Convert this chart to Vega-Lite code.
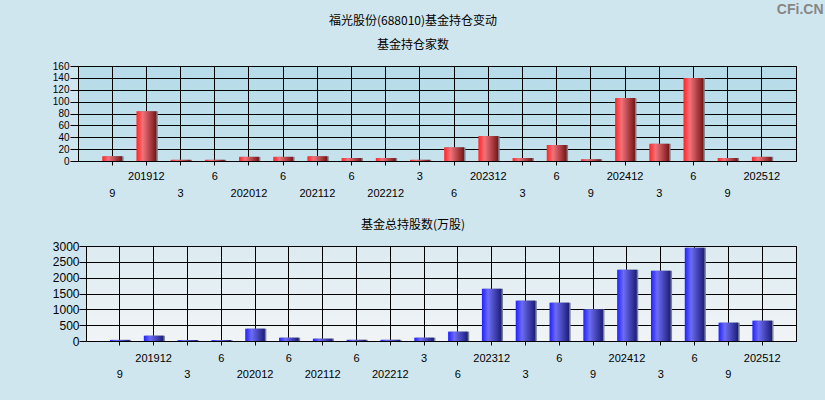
{
  "$schema": "https://vega.github.io/schema/vega-lite/v6.json",
  "background": "#d0e6ef",
  "padding": {"left": 51, "top": 2, "right": 3, "bottom": 24},
  "title": {
    "text": "CFi.CN",
    "font": "Liberation Sans",
    "fontSize": 14,
    "fontWeight": "bold",
    "color": "#868686",
    "anchor": "end",
    "offset": 0,
    "dy": 2,
    "dx": 27
  },
  "datasets": {
    "holdings": [
      {"period": "201909", "funds": 8, "shares": 35},
      {"period": "201912", "funds": 84, "shares": 168},
      {"period": "202003", "funds": 2, "shares": 30},
      {"period": "202006", "funds": 2, "shares": 30},
      {"period": "202012", "funds": 7, "shares": 389},
      {"period": "202106", "funds": 7, "shares": 105},
      {"period": "202112", "funds": 8, "shares": 74},
      {"period": "202206", "funds": 5, "shares": 38},
      {"period": "202212", "funds": 5, "shares": 38},
      {"period": "202303", "funds": 2, "shares": 105},
      {"period": "202306", "funds": 23, "shares": 295},
      {"period": "202312", "funds": 42, "shares": 1653},
      {"period": "202403", "funds": 5, "shares": 1274},
      {"period": "202406", "funds": 27, "shares": 1210},
      {"period": "202409", "funds": 3, "shares": 1000},
      {"period": "202412", "funds": 106, "shares": 2253},
      {"period": "202503", "funds": 29, "shares": 2221},
      {"period": "202506", "funds": 140, "shares": 2947},
      {"period": "202509", "funds": 5, "shares": 579},
      {"period": "202512", "funds": 7, "shares": 642}
    ]
  },
  "columns": 1,
  "align": "none",
  "spacing": 19,
  "concat": [
    {
      "width": 718,
      "height": 95,
      "data": {"name": "holdings"},
      "title": {
        "text": "福光股份(688010)基金持仓变动",
        "subtitle": "基金持仓家数",
        "font": "Noto Sans CJK SC",
        "fontSize": 12,
        "fontWeight": "normal",
        "color": "black",
        "subtitleFont": "Noto Sans CJK SC",
        "subtitleFontSize": 12,
        "subtitleColor": "black",
        "subtitlePadding": 12,
        "offset": 9,
        "anchor": "middle",
        "dx": -24
      },
      "view": {
        "fill": {"gradient": "linear", "x1": 0, "y1": 0, "x2": 0, "y2": 1,
          "stops": [{"offset": 0, "color": "#b6dbe9"}, {"offset": 1, "color": "#c6e2ed"}]},
        "stroke": "black", "strokeWidth": 1
      },
      "encoding": {
        "x": {
          "field": "period", "type": "ordinal", "sort": null,
          "scale": {"paddingInner": 0.42, "paddingOuter": 0.71},
          "axis": {
            "title": null, "bandPosition": 0.5, "grid": true, "gridColor": "black", "gridWidth": 1,
            "domain": false, "tickColor": "black", "tickSize": 4, "labelAngle": 0,
            "labelFont": "Liberation Sans", "labelFontSize": 11, "labelColor": "black",
            "labelPadding": 5, "labelBaseline": "top", "labelOverlap": false, "labelLineHeight": 17,
            "labelExpr": "indexof(['201912','202006','202106','202206','202303','202312','202406','202412','202506','202512'], datum.value) >= 0 ? (substring(datum.value, 4) == '12' ? datum.value : toString(toNumber(substring(datum.value, 4)))) : [' ', (substring(datum.value, 4) == '12' ? datum.value : toString(toNumber(substring(datum.value, 4))))]"
          }
        },
        "y": {
          "field": "funds", "type": "quantitative",
          "scale": {"domain": [0, 160], "nice": false},
          "axis": {
            "title": null, "values": [0, 20, 40, 60, 80, 100, 120, 140, 160], "format": "d",
            "grid": true, "gridColor": "black", "gridWidth": 1, "domain": false,
            "tickColor": "black", "tickSize": 8, "labelPadding": 1,
            "labelFont": "Liberation Sans", "labelFontSize": 10, "labelColor": "black"
          }
        }
      },
      "layer": [
        {"mark": {"type": "bar", "color": "#74838f", "xOffset": 1.5}},
        {"mark": {"type": "bar", "color": {"gradient": "linear", "x1": 0, "y1": 0, "x2": 1, "y2": 0,
          "stops": [{"offset": 0, "color": "#ff2424"}, {"offset": 0.32, "color": "#f2727a"}, {"offset": 1, "color": "#761616"}]}}}
      ]
    },
    {
      "hconcat": [
        {
          "width": 1,
          "height": 95,
          "data": {"values": [{"k": 1}]},
          "mark": {"type": "point", "opacity": 0},
          "view": {"stroke": null, "fill": null}
        },
        {
          "width": 710,
          "height": 95,
          "data": {"name": "holdings"},
          "title": {
            "text": "基金总持股数(万股)", "font": "Noto Sans CJK SC", "fontSize": 12, "fontWeight": "normal",
            "color": "black", "anchor": "middle", "offset": 8, "dx": -28
          },
          "view": {
            "fill": {"gradient": "linear", "x1": 0, "y1": 0, "x2": 0, "y2": 1,
              "stops": [{"offset": 0, "color": "#dcebf1"}, {"offset": 1, "color": "#f1f4f6"}]},
            "stroke": "black", "strokeWidth": 1
          },
          "encoding": {
            "x": {
              "field": "period", "type": "ordinal", "sort": null,
              "scale": {"paddingInner": 0.42, "paddingOuter": 0.71},
              "axis": {
                "title": null, "bandPosition": 0.5, "grid": true, "gridColor": "black", "gridWidth": 1,
                "domain": false, "tickColor": "black", "tickSize": 4, "labelAngle": 0,
                "labelFont": "Liberation Sans", "labelFontSize": 11, "labelColor": "black",
                "labelPadding": 7, "labelBaseline": "top", "labelOverlap": false, "labelLineHeight": 16,
                "labelExpr": "indexof(['201912','202006','202106','202206','202303','202312','202406','202412','202506','202512'], datum.value) >= 0 ? (substring(datum.value, 4) == '12' ? datum.value : toString(toNumber(substring(datum.value, 4)))) : [' ', (substring(datum.value, 4) == '12' ? datum.value : toString(toNumber(substring(datum.value, 4))))]"
              }
            },
            "y": {
              "field": "shares", "type": "quantitative",
              "scale": {"domain": [0, 3000], "nice": false},
              "axis": {
                "title": null, "values": [0, 500, 1000, 1500, 2000, 2500, 3000], "format": "d",
                "grid": true, "gridColor": "black", "gridWidth": 1, "domain": false,
                "tickColor": "black", "tickSize": 7, "labelPadding": 0,
                "labelFont": "Liberation Sans", "labelFontSize": 12, "labelColor": "black"
              }
            }
          },
          "layer": [
            {"mark": {"type": "bar", "color": "#74838f", "xOffset": 1.5}},
            {"mark": {"type": "bar", "color": {"gradient": "linear", "x1": 0, "y1": 0, "x2": 1, "y2": 0,
              "stops": [{"offset": 0, "color": "#2020ff"}, {"offset": 0.32, "color": "#6c6cf4"}, {"offset": 1, "color": "#1c1c78"}]}}}
          ]
        }
      ],
      "spacing": 7,
      "bounds": "flush"
    }
  ]
}
